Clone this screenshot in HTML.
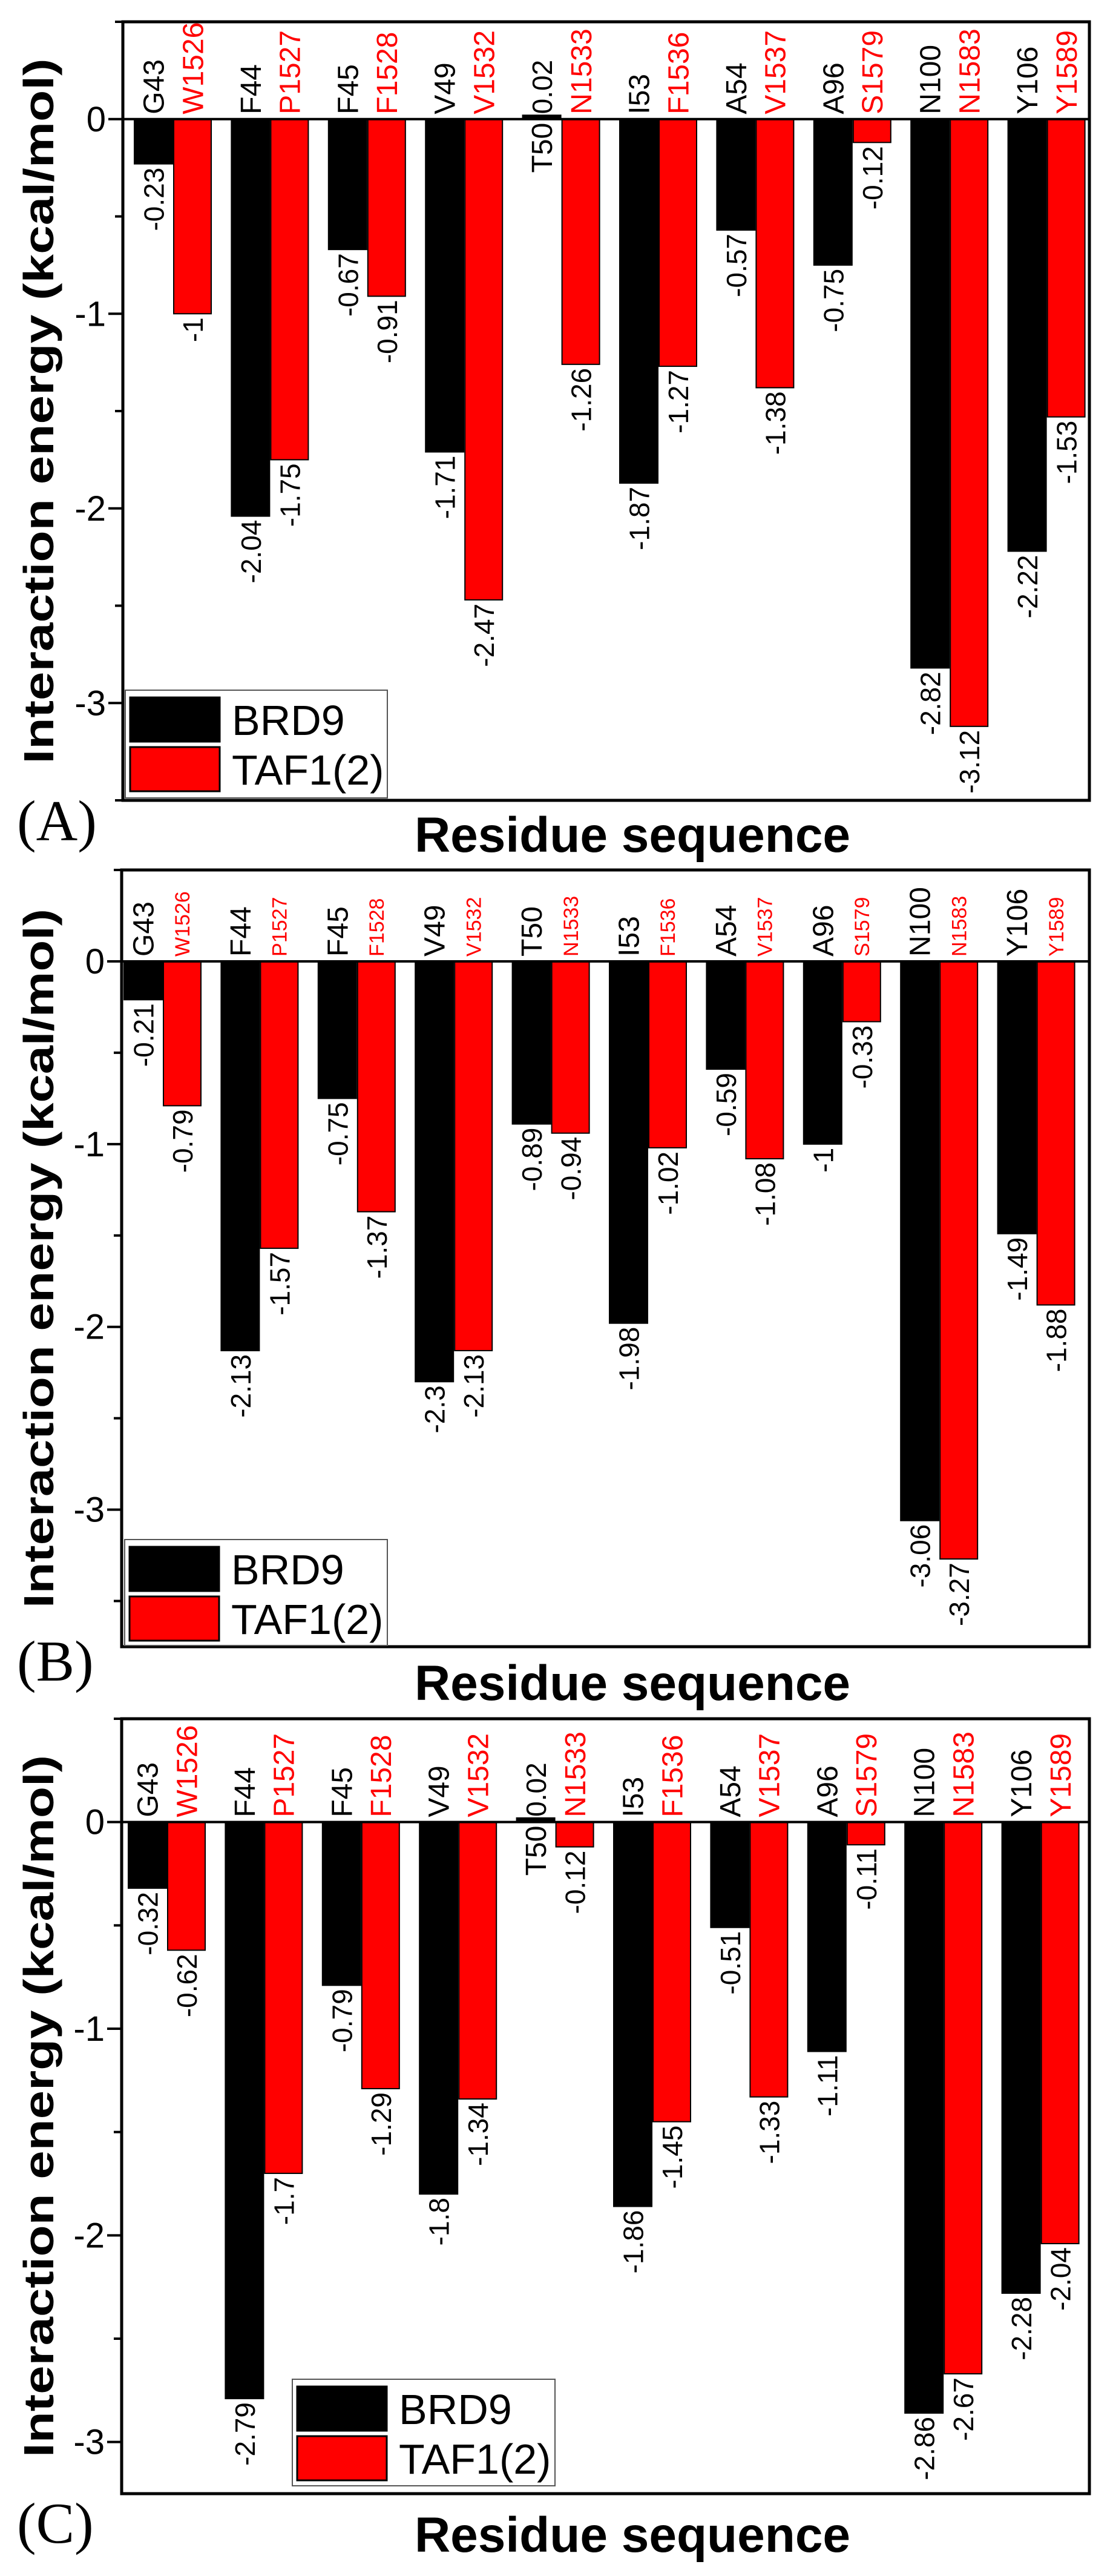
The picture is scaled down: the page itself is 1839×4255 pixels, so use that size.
<!DOCTYPE html>
<html><head><meta charset="utf-8"><style>
html,body{margin:0;padding:0;background:#fff}
svg{display:block}
text{font-family:"Liberation Sans",Arial,sans-serif}
</style></head><body>
<svg id="fig" xmlns="http://www.w3.org/2000/svg" width="1839" height="4255" viewBox="0 0 1839 4255"></svg>
<script>
const catBRD9 = ["G43","F44","F45","V49","T50","I53","A54","A96","N100","Y106"];
const catTAF1 = ["W1526","P1527","F1528","V1532","N1533","F1536","V1537","S1579","N1583","Y1589"];
const yTicks = [0,-1,-2,-3];
const seriesNames = ["BRD9","TAF1(2)"];
const brd9A = [-0.23,-2.04,-0.67,-1.71,0.02,-1.87,-0.57,-0.75,-2.82,-2.22];
const taf1A = [-1,-1.75,-0.91,-2.47,-1.26,-1.27,-1.38,-0.12,-3.12,-1.53];
const brd9B = [-0.21,-2.13,-0.75,-2.3,-0.89,-1.98,-0.59,-1,-3.06,-1.49];
const taf1B = [-0.79,-1.57,-1.37,-2.13,-0.94,-1.02,-1.08,-0.33,-3.27,-1.88];
const brd9C = [-0.32,-2.79,-0.79,-1.8,0.02,-1.86,-0.51,-1.11,-2.86,-2.28];
const taf1C = [-0.62,-1.7,-1.29,-1.34,-0.12,-1.45,-1.33,-0.11,-2.67,-2.04];

const NS="http://www.w3.org/2000/svg";
const svg=document.getElementById('fig');
function mk(tag,attrs,parent,txt){const e=document.createElementNS(NS,tag);for(const k in attrs)e.setAttribute(k,attrs[k]);if(txt!==undefined)e.textContent=txt;(parent||svg).appendChild(e);return e;}

function panel(p){
  const g=mk('g',{});
  
  
  const unit=(p.bottom-p.top)/(p.ymax-p.ymin);
  const y=v=>p.top+(p.ymax-v)*unit;
  const x=i=>p.x0+i*160.4;
  const bw=63, rw=62;
  // bars
  for(let i=0;i<p.b.length;i++){
    const v=p.b[i], y0=y(0), yv=y(v);
    const r=mk('rect',{x:x(i),y:Math.min(y0,yv),width:bw,height:Math.max(2,Math.abs(yv-y0)),fill:'#000',stroke:'#000','stroke-width':2},g);
    
    
    const cx=x(i)+bw/2;
    // category label
    let t;
    if(v>0){
      t=mk('text',{transform:`translate(${cx+17},${y0+6}) rotate(-90)`,'text-anchor':'end','font-size':48,fill:'#000'},g,catBRD9[i]);
    } else {
      t=mk('text',{transform:`translate(${cx+17},${y0-8}) rotate(-90)`,'text-anchor':'start','font-size':48,fill:'#000'},g,catBRD9[i]);
    }
    
    
    let vl;
    if(v>0){
      vl=mk('text',{transform:`translate(${cx+17},${yv-2}) rotate(-90)`,'text-anchor':'start','font-size':46,fill:'#000'},g,String(v));
    } else {
      vl=mk('text',{transform:`translate(${cx+17},${yv+6}) rotate(-90)`,'text-anchor':'end','font-size':46,fill:'#000'},g,String(v));
    }
    
    
  }
  for(let i=0;i<p.r.length;i++){
    const v=p.r[i], y0=y(0), yv=y(v);
    const rx=x(i)+65;
    const r=mk('rect',{x:rx,y:Math.min(y0,yv),width:rw,height:Math.max(2,Math.abs(yv-y0)),fill:'#ff0000',stroke:'#000','stroke-width':2},g);
    
    
    const cx=rx+rw/2;
    const fs=p.redFs;
    const t=mk('text',{transform:`translate(${cx+fs*0.36},${y0-8}) rotate(-90)`,'text-anchor':'start','font-size':fs,fill:'#ff0000'},g,catTAF1[i]);
    
    
    const vl=mk('text',{transform:`translate(${cx+17},${yv+6}) rotate(-90)`,'text-anchor':'end','font-size':46,fill:'#000'},g,String(v));
    
    
  }
  // zero line
  const zl=mk('line',{x1:p.left,x2:p.right,y1:y(0),y2:y(0),stroke:'#000','stroke-width':4},g);
  
  
  // frame
  const fr=mk('rect',{x:p.left,y:p.top,width:p.right-p.left,height:p.bottom-p.top,fill:'none',stroke:'#000','stroke-width':5},g);
  
  
  // ticks
  for(let v=p.ymax;v>=p.ymin-1e-9;v-=0.5){
    const major=Math.abs(v-Math.round(v))<1e-9;
    const tk=mk('line',{x1:p.left-(major?24:13),x2:p.left,y1:y(v),y2:y(v),stroke:'#000','stroke-width':4},g);
    
    
  }
  for(const v of yTicks){
    const tl=mk('text',{x:p.left-28,y:y(v)+20,'text-anchor':'end','font-size':58,fill:'#000'},g,String(v));
    
    
  }
  // legend
  const L=p.leg;
  const lg=mk('g',{},g);
  
  
  mk('rect',{x:L.x,y:L.y,width:L.w,height:L.h,fill:'#fff',stroke:'#555','stroke-width':2},lg);
  const cols=['#000','#ff0000'];
  for(let k=0;k<2;k++){
    const sy=L.y+12+k*82;
    const sw=mk('rect',{x:L.x+8,y:sy,width:148,height:73,fill:cols[k],stroke:'#000','stroke-width':3},lg);
    
    
    const lt=mk('text',{x:L.x+176,y:sy+62,'font-size':70,fill:'#000'},lg,seriesNames[k]);
    
    
  }
  // axis titles
  const yt=mk('text',{transform:`translate(88,${(p.top+p.bottom)/2}) rotate(-90)`,'text-anchor':'middle','font-size':70,'font-weight':'bold',fill:'#000',textLength:p.ytLen,lengthAdjust:'spacingAndGlyphs'},g,'Interaction energy (kcal/mol)');
  
  
  const xt=mk('text',{x:1045,y:p.xtY,'text-anchor':'middle','font-size':82,'font-weight':'bold',fill:'#000'},g,'Residue sequence');
  
  
  const pl=mk('text',{x:28,y:p.plY,'font-size':95,fill:'#000','font-family':'Liberation Serif, serif'},g,'('+p.id+')');
  pl.style.fontFamily='"Liberation Serif",serif';
  
  
}

panel({id:'A',b:brd9A,r:taf1A,top:36,bottom:1322,ymax:0.5,ymin:-3.5,left:203,right:1800,x0:222,redFs:48,
  leg:{x:207,y:1140,w:433,h:178},ytLen:1165,xtY:1407,plY:1388});
panel({id:'B',b:brd9B,r:taf1B,top:1437,bottom:2720,ymax:0.5,ymin:-3.75,left:201,right:1800,x0:205,redFs:34,
  leg:{x:206,y:2543,w:434,h:175},ytLen:1155,xtY:2808,plY:2776});
panel({id:'C',b:brd9C,r:taf1C,top:2839,bottom:4119,ymax:0.5,ymin:-3.25,left:201,right:1800,x0:212,redFs:48,
  leg:{x:483,y:3930,w:434,h:176},ytLen:1160,xtY:4215,plY:4200});
</script>
</body></html>
